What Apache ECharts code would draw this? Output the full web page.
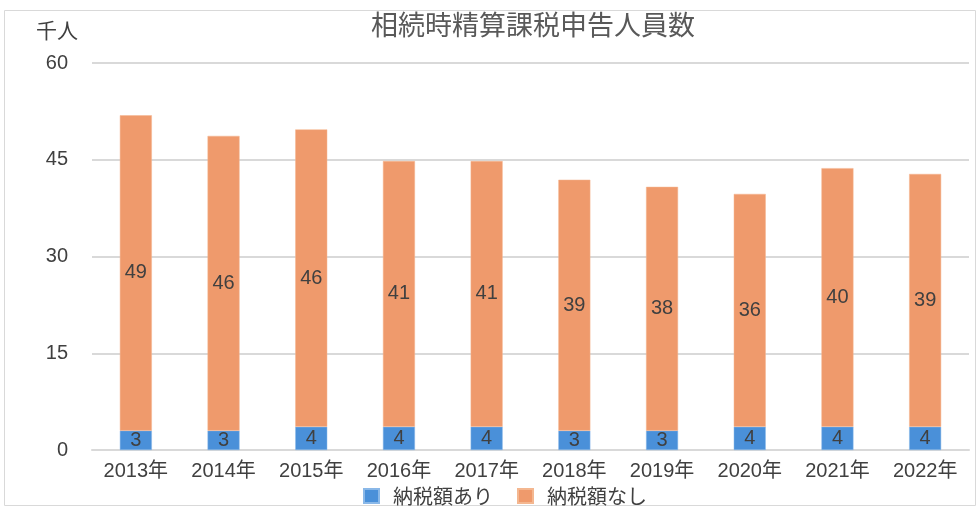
<!DOCTYPE html>
<html><head><meta charset="utf-8">
<script src="https://cdn.jsdelivr.net/npm/echarts@6/dist/echarts.min.js"></script>
<style>html,body{margin:0;padding:0;background:#fff}#c{width:980px;height:510px}</style>
</head><body><div id="c"></div>
<script>
const categories = ['2013年','2014年','2015年','2016年','2017年','2018年','2019年','2020年','2021年','2022年'];
const withTax = [3.0, 3.0, 3.6, 3.6, 3.6, 3.0, 3.0, 3.6, 3.6, 3.6];
const withoutTax = [48.9, 45.7, 46.1, 41.2, 41.2, 38.9, 37.8, 36.1, 40.1, 39.2];
const seriesNames = ['納税額あり', '納税額なし'];
const yTicks = {min: 0, max: 60, interval: 15};

const FONT = '"Liberation Sans", "Noto Sans CJK JP", sans-serif';
const JP = '"Noto Sans CJK JP", sans-serif';
const chart = echarts.init(document.getElementById('c'));
const lbl = {show: true, position: 'inside', color: '#404040', fontSize: 20, fontFamily: FONT,
  formatter: p => Math.round(p.value)};
chart.setOption({
  animation: false,
  textStyle: {fontFamily: FONT},
  graphic: [{type: 'rect', shape: {x: 4.5, y: 10.5, width: 971, height: 495},
    style: {fill: null, stroke: '#d9d9d9', lineWidth: 1}, silent: true},
    {type: 'text', left: 36, top: 20, style: {text: '千人', fontSize: 21, fill: '#404040', fontFamily: JP}}],
  title: {text: '相続時精算課税申告人員数', left: 528, textAlign: 'center', top: 6,
    textStyle: {fontSize: 27, fontWeight: 'normal', color: '#595959', fontFamily: JP}},
  legend: {bottom: -1, left: 358, itemWidth: 15, itemHeight: 14, itemGap: 24, icon: 'rect',
    textStyle: {fontSize: 20, color: '#404040', fontFamily: JP, padding: [0, 0, 0, 9]}},
  grid: {left: 92, right: 11, top: 63, bottom: 60},
  xAxis: {type: 'category', data: categories,
    axisLine: {lineStyle: {color: '#d9d9d9', width: 2}}, axisTick: {show: false},
    axisLabel: {color: '#404040', fontSize: 20, margin: 11, fontFamily: FONT}},
  yAxis: {type: 'value', min: yTicks.min, max: yTicks.max, interval: yTicks.interval,
    axisLine: {show: false}, axisTick: {show: false},
    axisLabel: {color: '#404040', fontSize: 20, margin: 24, fontFamily: FONT},
    splitLine: {lineStyle: {color: '#d9d9d9', width: 2}}},
  series: [
    {name: seriesNames[0], type: 'bar', stack: 't', data: withTax, barWidth: 32,
      itemStyle: {color: '#4a90d9', borderColor: '#8ab8e8', borderWidth: 0.5}, label: lbl},
    {name: seriesNames[1], type: 'bar', stack: 't', data: withoutTax, barWidth: 32,
      itemStyle: {color: '#ef9a6c', borderColor: '#f4b790', borderWidth: 0.5}, label: lbl}
  ]
});
</script></body></html>
